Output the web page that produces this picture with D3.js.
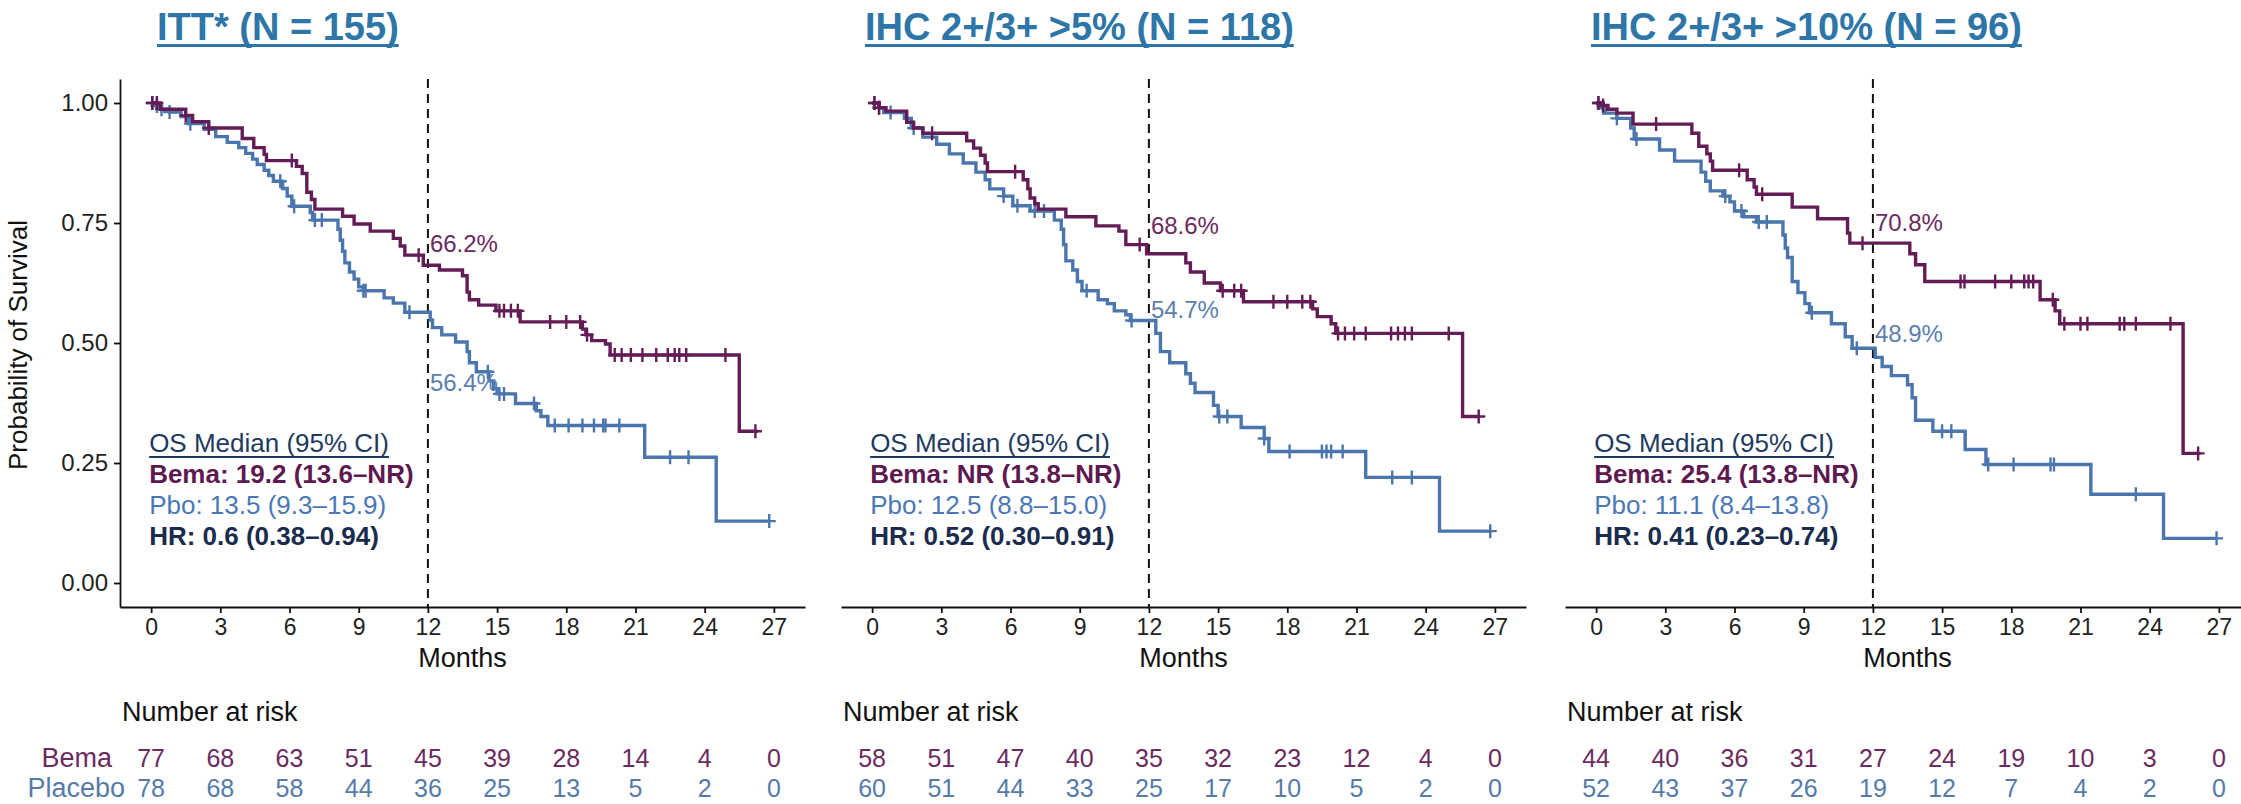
<!DOCTYPE html>
<html>
<head>
<meta charset="utf-8">
<script src="https://cdn.jsdelivr.net/npm/d3@7"></script>
<style>
  body { margin: 0; background: #fff; }
  svg { display: block; font-family: "Liberation Sans", Arial, sans-serif; }
</style>
</head>
<body>
<div id="chart"></div>
<script>
// x ticks / risk table columns
var months = [0, 3, 6, 9, 12, 15, 18, 21, 24, 27];
var survTicks = [0, 0.25, 0.5, 0.75, 1];

var panelTitles = ['ITT* (N = 155)', 'IHC 2+/3+ >5% (N = 118)', 'IHC 2+/3+ >10% (N = 96)'];

// KM steps: [month, survival after the drop]
var ittBema = [[0, 1], [0.4, 0.987], [1.5, 0.974], [1.8, 0.961], [2.5, 0.948], [3.95, 0.926], [4.45, 0.907], [4.9, 0.893], [5.0, 0.880],
  [6.3, 0.868], [6.55, 0.853], [6.75, 0.814], [6.95, 0.799], [7.1, 0.779], [8.3, 0.764], [8.8, 0.748], [9.5, 0.733], [10.5, 0.718],
  [10.8, 0.702], [11.0, 0.683], [11.8, 0.662], [12.5, 0.652], [13.5, 0.640], [13.7, 0.606], [13.8, 0.590], [14.2, 0.579], [14.95, 0.567],
  [16.0, 0.544], [18.7, 0.529], [18.85, 0.517], [19.1, 0.505], [19.7, 0.498], [19.9, 0.475], [25.5, 0.316]];
var ittBemaEnd = 26.3;
var ittBemaCensor = [0.05, 0.25, 1.5, 2.5, 6.1, 11.6, 15.1, 15.3, 15.6, 15.9, 17.3, 18.0, 18.6, 18.9, 20.1, 20.4, 20.8, 21.3, 21.9, 22.4, 22.7, 22.9, 23.2, 24.9, 26.2];

var ittPbo = [[0, 1], [0.2, 0.994], [0.4, 0.987], [0.8, 0.981], [1.3, 0.972], [1.6, 0.957], [2.3, 0.945], [2.8, 0.930], [3.3, 0.918],
  [3.8, 0.907], [4.1, 0.895], [4.4, 0.883], [4.6, 0.872], [4.9, 0.860], [5.1, 0.849], [5.3, 0.837], [5.7, 0.822], [5.9, 0.806],
  [6.1, 0.785], [6.9, 0.772], [7.0, 0.756], [8.1, 0.737], [8.2, 0.714], [8.3, 0.691], [8.4, 0.667], [8.6, 0.648], [8.8, 0.633],
  [9.0, 0.617], [9.2, 0.609], [10.1, 0.594], [10.5, 0.583], [11.0, 0.564], [12.1, 0.548], [12.2, 0.532], [12.6, 0.517], [13.2, 0.502],
  [13.7, 0.482], [13.8, 0.459], [14.1, 0.440], [14.65, 0.421], [14.85, 0.405], [15.0, 0.394], [15.8, 0.374], [16.7, 0.359],
  [16.9, 0.347], [17.2, 0.328], [21.4, 0.262], [24.5, 0.129]];
var ittPboEnd = 26.8;
var ittPboCensor = [0.05, 0.25, 0.45, 0.8, 1.7, 5.6, 6.2, 7.1, 7.4, 9.2, 9.3, 11.2, 14.6, 15.1, 15.3, 16.6, 17.5, 18.1, 18.7, 19.2, 19.6, 19.7, 20.3, 22.5, 23.3, 26.8];

var p5Bema = [[0, 1], [0.3, 0.990], [0.6, 0.983], [1.5, 0.960], [1.8, 0.948], [2.2, 0.937], [4.1, 0.921], [4.4, 0.906], [4.7, 0.891],
  [4.9, 0.875], [5.0, 0.857], [6.55, 0.840], [6.75, 0.821], [6.85, 0.802], [7.05, 0.790], [7.2, 0.779], [8.4, 0.763], [9.7, 0.744],
  [10.7, 0.733], [11.0, 0.705], [11.9, 0.686], [13.6, 0.667], [13.8, 0.648], [14.4, 0.625], [15.1, 0.609], [16.1, 0.586],
  [19.1, 0.571], [19.3, 0.555], [19.9, 0.540], [20.1, 0.520], [25.6, 0.347]];
var p5BemaEnd = 26.3;
var p5BemaCensor = [0.1, 0.3, 2.6, 6.2, 11.6, 15.2, 15.7, 16.0, 17.4, 18.0, 18.65, 19.0, 20.2, 20.5, 20.9, 21.4, 22.5, 22.8, 23.1, 23.4, 25.0, 26.3];

var p5Pbo = [[0, 1], [0.3, 0.990], [0.5, 0.980], [1.4, 0.968], [1.7, 0.948], [2.2, 0.929], [2.8, 0.914], [3.35, 0.894], [3.95, 0.875],
  [4.5, 0.856], [4.9, 0.840], [5.1, 0.821], [5.7, 0.806], [6.1, 0.786], [6.85, 0.775], [7.9, 0.756], [8.2, 0.737], [8.3, 0.705],
  [8.4, 0.671], [8.7, 0.652], [8.9, 0.628], [9.1, 0.609], [9.8, 0.590], [10.2, 0.582], [10.5, 0.567], [11.0, 0.559], [11.2, 0.547],
  [12.3, 0.520], [12.5, 0.482], [12.9, 0.459], [13.6, 0.436], [13.8, 0.416], [14.0, 0.397], [14.8, 0.370], [15.0, 0.347],
  [16.0, 0.324], [17.0, 0.301], [17.2, 0.274], [21.4, 0.220], [24.6, 0.108]];
var p5PboEnd = 26.8;
var p5PboCensor = [0.1, 0.3, 0.8, 1.8, 5.7, 6.3, 7.05, 7.45, 9.3, 11.25, 15.05, 15.4, 17.0, 18.1, 19.5, 19.7, 19.9, 20.4, 22.55, 23.4, 26.8];

var p10Bema = [[0, 1], [0.2, 0.995], [0.5, 0.987], [0.9, 0.979], [1.6, 0.956], [4.15, 0.937], [4.45, 0.910], [4.8, 0.894],
  [4.95, 0.879], [5.05, 0.860], [6.55, 0.840], [6.85, 0.825], [6.95, 0.810], [8.5, 0.783], [9.6, 0.759], [10.9, 0.729],
  [11.0, 0.708], [13.6, 0.686], [13.85, 0.663], [14.25, 0.628], [19.25, 0.590], [19.9, 0.567], [20.1, 0.540], [25.45, 0.270]];
var p10BemaEnd = 26.2;
var p10BemaCensor = [0.1, 0.3, 2.6, 6.2, 7.2, 11.55, 15.8, 15.97, 17.3, 18.0, 18.56, 18.75, 18.95, 19.8, 20.3, 21.0, 21.3, 22.7, 22.9, 23.4, 24.9, 26.1];

var p10Pbo = [[0, 1], [0.2, 0.990], [0.4, 0.979], [0.9, 0.968], [1.5, 0.948], [1.65, 0.925], [2.75, 0.902], [3.4, 0.879],
  [4.55, 0.856], [4.75, 0.837], [4.95, 0.817], [5.5, 0.806], [5.8, 0.794], [6.0, 0.775], [6.4, 0.763], [6.95, 0.752],
  [8.1, 0.725], [8.2, 0.698], [8.3, 0.678], [8.5, 0.628], [8.75, 0.605], [9.05, 0.582], [9.25, 0.563], [10.2, 0.540],
  [10.8, 0.513], [11.1, 0.489], [12.1, 0.470], [12.4, 0.451], [12.8, 0.432], [13.5, 0.413], [13.7, 0.386], [13.85, 0.339],
  [14.6, 0.316], [16.0, 0.278], [16.9, 0.247], [21.45, 0.185], [24.6, 0.093]];
var p10PboEnd = 26.9;
var p10PboCensor = [0.1, 0.3, 0.9, 1.75, 5.6, 6.3, 7.05, 7.4, 9.35, 11.3, 15.0, 15.4, 17.0, 18.1, 19.7, 19.85, 23.4, 26.9];

// 12-month labels: [text, y position in survival units]
var pctBema = [['66.2%', 0.69], ['68.6%', 0.727], ['70.8%', 0.734]];
var pctPbo = [['56.4%', 0.40], ['54.7%', 0.552], ['48.9%', 0.502]];

var medianBema = ['Bema: 19.2 (13.6\u2013NR)', 'Bema: NR (13.8\u2013NR)', 'Bema: 25.4 (13.8\u2013NR)'];
var medianPbo = ['Pbo: 13.5 (9.3\u201315.9)', 'Pbo: 12.5 (8.8\u201315.0)', 'Pbo: 11.1 (8.4\u201313.8)'];
var hazardRatio = ['HR: 0.6 (0.38\u20130.94)', 'HR: 0.52 (0.30\u20130.91)', 'HR: 0.41 (0.23\u20130.74)'];

var riskBema = [[77, 68, 63, 51, 45, 39, 28, 14, 4, 0], [58, 51, 47, 40, 35, 32, 23, 12, 4, 0], [44, 40, 36, 31, 27, 24, 19, 10, 3, 0]];
var riskPbo = [[78, 68, 58, 44, 36, 25, 13, 5, 2, 0], [60, 51, 44, 33, 25, 17, 10, 5, 2, 0], [52, 43, 37, 26, 19, 12, 7, 4, 2, 0]];

var width = 2241;
var height = 804;
var panelLeft = [120, 841, 1565];
var panelWidth = 685;
var titleX = [157, 865, 1591];

var bemaColor = '#641c57';
var pboColor = '#4a76ad';

var svg = d3.select('#chart').append('svg')
  .attr('width', width)
  .attr('height', height);

var yScale = d3.scaleLinear()
  .domain([-0.05, 1.05])
  .range([607, 79]);

var panels = [
  { bema: ittBema, bemaEnd: ittBemaEnd, bemaCensor: ittBemaCensor, pbo: ittPbo, pboEnd: ittPboEnd, pboCensor: ittPboCensor },
  { bema: p5Bema, bemaEnd: p5BemaEnd, bemaCensor: p5BemaCensor, pbo: p5Pbo, pboEnd: p5PboEnd, pboCensor: p5PboCensor },
  { bema: p10Bema, bemaEnd: p10BemaEnd, bemaCensor: p10BemaCensor, pbo: p10Pbo, pboEnd: p10PboEnd, pboCensor: p10PboCensor }
];

// survival value at time t for a step list
function survAt(steps, t) {
  var s = 1;
  steps.forEach(function(d) { if (d[0] <= t) s = d[1]; });
  return s;
}

function styleAxis(sel) {
  sel.selectAll('path, line').attr('stroke', '#111').attr('stroke-width', 1.8);
  sel.selectAll('text').attr('fill', '#222').style('font-size', '23px');
}

// y axis title
svg.append('text')
  .attr('transform', 'translate(27,345) rotate(-90)')
  .attr('text-anchor', 'middle')
  .style('font-size', '26px')
  .attr('fill', '#111')
  .text('Probability of Survival');

panels.forEach(function(p, i) {
  var xScale = d3.scaleLinear()
    .domain([-1.35, 28.35])
    .range([panelLeft[i], panelLeft[i] + panelWidth]);

  var g = svg.append('g');

  // title
  var title = g.append('text')
    .attr('x', titleX[i])
    .attr('y', 40)
    .attr('fill', '#2e76a8')
    .style('font-size', '38px')
    .style('font-weight', 'bold')
    .text(panelTitles[i]);
  var tw = title.node().getComputedTextLength();
  g.append('rect')
    .attr('x', titleX[i])
    .attr('y', 44)
    .attr('width', tw)
    .attr('height', 3)
    .attr('fill', '#2e76a8');

  // axes
  var xAxis = d3.axisBottom(xScale)
    .tickValues(months)
    .tickSize(6)
    .tickSizeOuter(0)
    .tickPadding(6);
  g.append('g')
    .attr('transform', 'translate(0,607)')
    .call(xAxis)
    .call(styleAxis);

  if (i === 0) {
    var yAxis = d3.axisLeft(yScale)
      .tickValues(survTicks)
      .tickFormat(d3.format('.2f'))
      .tickSize(6)
      .tickSizeOuter(0)
      .tickPadding(6);
    g.append('g')
      .attr('transform', 'translate(' + panelLeft[i] + ',0)')
      .call(yAxis)
      .call(styleAxis)
      .selectAll('text')
      .style('font-size', '24px');
  }

  g.append('text')
    .attr('x', xScale(13.5))
    .attr('y', 667)
    .attr('text-anchor', 'middle')
    .style('font-size', '27px')
    .attr('fill', '#111')
    .text('Months');

  // 12 month reference
  g.append('line')
    .attr('x1', xScale(12))
    .attr('x2', xScale(12))
    .attr('y1', yScale(1.05))
    .attr('y2', yScale(-0.05))
    .attr('stroke', '#111')
    .attr('stroke-width', 2)
    .attr('stroke-dasharray', '9,6');

  var line = d3.line()
    .x(function(d) { return xScale(d[0]); })
    .y(function(d) { return yScale(d[1]); })
    .curve(d3.curveStepAfter);

  var groups = [
    { steps: p.pbo, end: p.pboEnd, censor: p.pboCensor, color: pboColor },
    { steps: p.bema, end: p.bemaEnd, censor: p.bemaCensor, color: bemaColor }
  ];

  groups.forEach(function(c) {
    var pts = c.steps.concat([[c.end, c.steps[c.steps.length - 1][1]]]);
    g.append('path')
      .datum(pts)
      .attr('d', line)
      .attr('fill', 'none')
      .attr('stroke', c.color)
      .attr('stroke-width', 3.4);

    g.selectAll(null)
      .data(c.censor)
      .enter()
      .append('path')
      .attr('d', function(t) {
        var cx = xScale(t);
        var cy = yScale(survAt(c.steps, t));
        return 'M' + (cx - 6.5) + ',' + cy + 'h13M' + cx + ',' + (cy - 7) + 'v14';
      })
      .attr('stroke', c.color)
      .attr('stroke-width', 2.4);
  });

  // 12 month survival labels
  g.append('text')
    .attr('x', xScale(12) + 2)
    .attr('y', yScale(pctBema[i][1]))
    .attr('fill', '#6b2a60')
    .style('font-size', '24px')
    .text(pctBema[i][0]);
  g.append('text')
    .attr('x', xScale(12) + 2)
    .attr('y', yScale(pctPbo[i][1]))
    .attr('fill', '#5a7fb0')
    .style('font-size', '24px')
    .text(pctPbo[i][0]);

  // median box
  var lx = xScale(0) - 2;
  var os = g.append('text')
    .attr('x', lx)
    .attr('y', 452)
    .attr('fill', '#1f3a5f')
    .style('font-size', '26px')
    .text('OS Median (95% CI)');
  g.append('rect')
    .attr('x', lx)
    .attr('y', 456)
    .attr('width', os.node().getComputedTextLength())
    .attr('height', 2)
    .attr('fill', '#1f3a5f');
  g.append('text')
    .attr('x', lx)
    .attr('y', 483)
    .attr('fill', '#5e1a50')
    .style('font-size', '26px')
    .style('font-weight', 'bold')
    .text(medianBema[i]);
  g.append('text')
    .attr('x', lx)
    .attr('y', 514)
    .attr('fill', '#4a78b5')
    .style('font-size', '26px')
    .text(medianPbo[i]);
  g.append('text')
    .attr('x', lx)
    .attr('y', 545)
    .attr('fill', '#1a2c4e')
    .style('font-size', '26px')
    .style('font-weight', 'bold')
    .text(hazardRatio[i]);

  // number at risk
  g.append('text')
    .attr('x', panelLeft[i] + 2)
    .attr('y', 721)
    .attr('fill', '#111')
    .style('font-size', '27px')
    .text('Number at risk');

  g.selectAll(null)
    .data(riskBema[i])
    .enter()
    .append('text')
    .attr('x', function(d, j) { return xScale(months[j]); })
    .attr('y', 767)
    .attr('text-anchor', 'middle')
    .attr('fill', '#6b2a60')
    .style('font-size', '25px')
    .text(function(d) { return d; });

  g.selectAll(null)
    .data(riskPbo[i])
    .enter()
    .append('text')
    .attr('x', function(d, j) { return xScale(months[j]); })
    .attr('y', 797)
    .attr('text-anchor', 'middle')
    .attr('fill', '#557ba8')
    .style('font-size', '25px')
    .text(function(d) { return d; });

  if (i === 0) {
    g.append('text')
      .attr('x', 112)
      .attr('y', 767)
      .attr('text-anchor', 'end')
      .attr('fill', '#6b2a60')
      .style('font-size', '27px')
      .text('Bema');
    g.append('text')
      .attr('x', 125)
      .attr('y', 797)
      .attr('text-anchor', 'end')
      .attr('fill', '#557ba8')
      .style('font-size', '27px')
      .text('Placebo');
  }
});
</script>
</body>
</html>
